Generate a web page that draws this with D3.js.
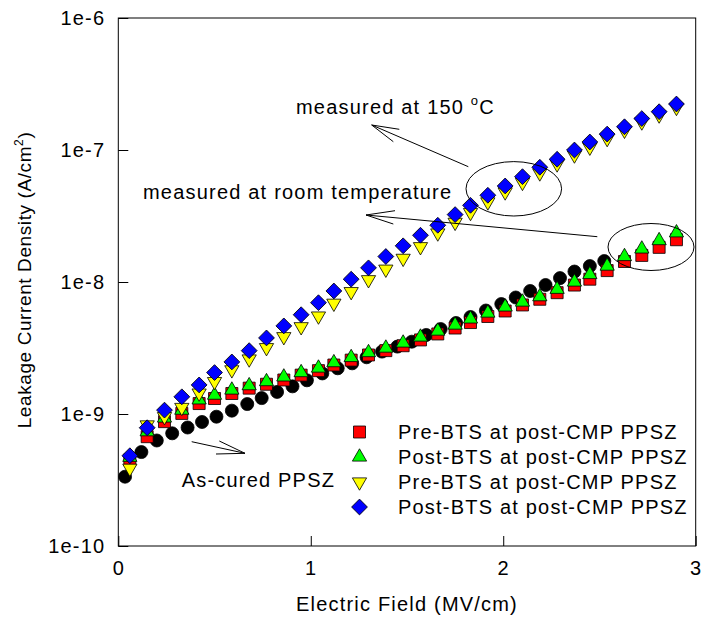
<!DOCTYPE html>
<html>
<head>
<meta charset="utf-8">
<script src="https://cdn.jsdelivr.net/npm/d3@7"></script>
<style>
  body { margin: 0; background: #fff; }
  text { font-family: Arial, "Liberation Sans", sans-serif; fill: #000; }
</style>
</head>
<body>
<svg id="chart" width="702" height="618"></svg>
<script>
// Electric field (MV/cm) for the as-cured film
const fieldAsCured = [0.035, 0.12, 0.20, 0.28, 0.36, 0.435, 0.51, 0.59, 0.67, 0.745, 0.825,
  0.905, 0.98, 1.06, 1.14, 1.215, 1.29, 1.37, 1.45, 1.525, 1.60, 1.675, 1.755, 1.83, 1.91,
  1.99, 2.065, 2.14, 2.22, 2.295, 2.37, 2.45, 2.525];
// Leakage current density (A/cm^2), as-cured PPSZ
const asCured = [3.35e-10, 5.15e-10, 6.30e-10, 7.14e-10, 7.90e-10, 8.70e-10, 9.54e-10, 1.06e-9,
  1.19e-9, 1.32e-9, 1.47e-9, 1.62e-9, 1.80e-9, 2.03e-9, 2.22e-9, 2.42e-9, 2.69e-9, 2.97e-9,
  3.24e-9, 3.53e-9, 3.97e-9, 4.40e-9, 4.89e-9, 5.43e-9, 6.08e-9, 6.81e-9, 7.63e-9, 8.55e-9,
  9.49e-9, 1.07e-8, 1.20e-8, 1.32e-8, 1.44e-8];

// Electric field (MV/cm) for the post-CMP films
const fieldPPSZ = [0.06, 0.15, 0.24, 0.33, 0.42, 0.50, 0.59, 0.68, 0.77, 0.86, 0.95, 1.04,
  1.12, 1.21, 1.30, 1.39, 1.48, 1.57, 1.66, 1.75, 1.83, 1.92, 2.01, 2.10, 2.19, 2.28, 2.37,
  2.45, 2.54, 2.63, 2.72, 2.81, 2.90];
// Room temperature
const preBTSRoom = [4.49e-10, 6.73e-10, 8.75e-10, 1.01e-9, 1.20e-9, 1.31e-9, 1.43e-9, 1.57e-9,
  1.68e-9, 1.81e-9, 1.97e-9, 2.13e-9, 2.35e-9, 2.56e-9, 2.80e-9, 3.02e-9, 3.29e-9, 3.64e-9,
  4.04e-9, 4.48e-9, 4.93e-9, 5.48e-9, 6.03e-9, 6.70e-9, 7.40e-9, 8.30e-9, 9.48e-9, 1.05e-8,
  1.22e-8, 1.43e-8, 1.59e-8, 1.83e-8, 2.09e-8];
const postBTSRoom = [4.70e-10, 7.34e-10, 9.33e-10, 1.07e-9, 1.28e-9, 1.39e-9, 1.52e-9, 1.64e-9,
  1.76e-9, 1.91e-9, 2.06e-9, 2.23e-9, 2.45e-9, 2.68e-9, 2.92e-9, 3.16e-9, 3.45e-9, 3.83e-9,
  4.25e-9, 4.72e-9, 5.25e-9, 5.82e-9, 6.47e-9, 7.05e-9, 7.74e-9, 8.81e-9, 1.00e-8, 1.14e-8,
  1.32e-8, 1.56e-8, 1.78e-8, 2.06e-8, 2.36e-8];
// Measured at 150 C
const preBTS150 = [3.88e-10, 8.26e-10, 9.55e-10, 1.12e-9, 1.44e-9, 1.76e-9, 2.16e-9, 2.61e-9,
  3.18e-9, 3.85e-9, 4.58e-9, 5.52e-9, 6.90e-9, 8.45e-9, 1.04e-8, 1.25e-8, 1.51e-8, 1.85e-8,
  2.35e-8, 2.83e-8, 3.36e-8, 4.04e-8, 4.81e-8, 5.68e-8, 6.70e-8, 7.84e-8, 9.16e-8, 1.05e-7,
  1.22e-7, 1.41e-7, 1.63e-7, 1.84e-7, 2.10e-7];
const postBTS150 = [4.83e-10, 7.87e-10, 1.07e-9, 1.35e-9, 1.66e-9, 2.06e-9, 2.48e-9, 3.02e-9,
  3.77e-9, 4.65e-9, 5.65e-9, 6.97e-9, 8.55e-9, 1.05e-8, 1.28e-8, 1.56e-8, 1.88e-8, 2.26e-8,
  2.69e-8, 3.24e-8, 3.81e-8, 4.54e-8, 5.34e-8, 6.28e-8, 7.40e-8, 8.51e-8, 1.00e-7, 1.15e-7,
  1.32e-7, 1.50e-7, 1.73e-7, 1.95e-7, 2.23e-7];

const xTicks = [0, 1, 2, 3];
const yTicks = [1e-10, 1e-9, 1e-8, 1e-7, 1e-6];
const legendLabels = ["Pre-BTS at post-CMP PPSZ", "Post-BTS at post-CMP PPSZ",
  "Pre-BTS at post-CMP PPSZ", "Post-BTS at post-CMP PPSZ"];

const svg = d3.select("#chart");
const FONT = 20, LS = "1.2px";
const plot = { left: 118.3, right: 695.7, top: 18, bottom: 546 };

const x = d3.scaleLinear().domain([0, 3]).range([plot.left, plot.right]);
const y = d3.scaleLog().domain([1e-10, 1e-6]).range([plot.bottom, plot.top]);

// frame
svg.append("rect")
  .attr("x", plot.left).attr("y", plot.top)
  .attr("width", plot.right - plot.left).attr("height", plot.bottom - plot.top)
  .attr("fill", "none").attr("stroke", "#000").attr("stroke-width", 1);

// axes with inward ticks
const xAxis = svg.append("g")
  .attr("transform", `translate(0,${plot.bottom})`)
  .call(d3.axisBottom(x).tickValues(xTicks).tickSize(-10).tickPadding(15)
    .tickFormat(d3.format("d")));
const yAxis = svg.append("g")
  .attr("transform", `translate(${plot.left},0)`)
  .call(d3.axisLeft(y).tickValues(yTicks).tickSize(-10).tickPadding(13)
    .tickFormat(d => "1e" + Math.round(Math.log10(d))));
[xAxis, yAxis].forEach(g => {
  g.select(".domain").remove();
  g.selectAll(".tick line").attr("stroke", "#000").attr("stroke-width", 1);
  g.selectAll(".tick text")
    .style("font-size", FONT + "px")
    .style("letter-spacing", LS)
    .attr("fill", "#000")
    .style("font-family", "Arial, 'Liberation Sans', sans-serif");
});

// axis titles
svg.append("text")
  .attr("x", (plot.left + plot.right) / 2).attr("y", 611)
  .attr("text-anchor", "middle")
  .style("font-size", FONT + "px").style("letter-spacing", LS)
  .text("Electric Field (MV/cm)");

const yTitle = svg.append("text")
  .attr("transform", "translate(31,280) rotate(-90)")
  .attr("text-anchor", "middle")
  .style("font-size", "19px").style("letter-spacing", "0.6px");
yTitle.append("tspan").text("Leakage Current Density (A/cm");
yTitle.append("tspan").attr("dy", -8).style("font-size", "12px").text("2");
yTitle.append("tspan").attr("dy", 8).text(")");

// marker shapes
const shapes = {
  circle: d3.symbol().type(d3.symbolCircle).size(133)(),
  square: d3.symbol().type(d3.symbolSquare).size(144)(),
  triUp: d3.symbol().type(d3.symbolTriangle).size(88)(),
  diamond: d3.symbol().type(d3.symbolSquare).size(125)()
};

const series = [
  { xs: fieldAsCured, ys: asCured, shape: "circle", fill: "#000000", rot: 0 },
  { xs: fieldPPSZ, ys: preBTSRoom, shape: "square", fill: "#ff0000", rot: 0 },
  { xs: fieldPPSZ, ys: postBTSRoom, shape: "triUp", fill: "#00ff00", rot: 0 },
  { xs: fieldPPSZ, ys: preBTS150, shape: "triUp", fill: "#ffff00", rot: 180 },
  { xs: fieldPPSZ, ys: postBTS150, shape: "diamond", fill: "#0000ff", rot: 45 }
];

series.forEach(s => {
  svg.append("g").selectAll("path")
    .data(s.xs.map((f, i) => [f, s.ys[i]]))
    .join("path")
    .attr("d", shapes[s.shape])
    .attr("transform", d => `translate(${x(d[0])},${y(d[1])}) rotate(${s.rot})`)
    .attr("fill", s.fill)
    .attr("stroke", "#000")
    .attr("stroke-width", 0.8);
});

// annotations: ellipses and open-headed arrows
const ann = svg.append("g").attr("fill", "none").attr("stroke", "#000").attr("stroke-width", 1);
ann.append("ellipse").attr("cx", 513.8).attr("cy", 188.8).attr("rx", 47.8).attr("ry", 27.2);
ann.append("ellipse").attr("cx", 651).attr("cy", 247).attr("rx", 43).attr("ry", 23.5);
const arrows = [
  { from: [468.3, 166.7], tip: [371.7, 125], h1: [399.3, 129.3], h2: [393.3, 141.7] },
  { from: [597.3, 236.7], tip: [366, 215], h1: [395, 210.7], h2: [393.3, 224] },
  { from: [191.7, 441.7], tip: [245, 453.3], h1: [219.3, 441], h2: [216, 454] }
];
arrows.forEach(a => {
  ann.append("line").attr("x1", a.from[0]).attr("y1", a.from[1])
    .attr("x2", a.tip[0]).attr("y2", a.tip[1]);
  ann.append("path").attr("d", `M${a.h1}L${a.tip}L${a.h2}`);
});

const t1 = svg.append("text").attr("x", 296).attr("y", 114)
  .style("font-size", FONT + "px").style("letter-spacing", LS);
t1.append("tspan").text("measured at 150 ");
t1.append("tspan").attr("dy", -9).style("font-size", "13px").text("o");
t1.append("tspan").attr("dy", 9).text("C");

svg.append("text").attr("x", 143).attr("y", 199)
  .style("font-size", FONT + "px").style("letter-spacing", LS)
  .text("measured at room temperature");

svg.append("text").attr("x", 181.7).attr("y", 487)
  .style("font-size", FONT + "px").style("letter-spacing", LS)
  .text("As-cured PPSZ");

// legend
const legendItems = series.slice(1);
const legend = svg.append("g");
legendItems.forEach((s, i) => {
  const cy = 432 + i * 25;
  legend.append("path")
    .attr("d", shapes[s.shape])
    .attr("transform", `translate(359.5,${cy}) rotate(${s.rot})`)
    .attr("fill", s.fill).attr("stroke", "#000").attr("stroke-width", 0.8);
  legend.append("text")
    .attr("x", 398).attr("y", cy + 7)
    .style("font-size", FONT + "px").style("letter-spacing", LS)
    .text(legendLabels[i]);
});
</script>
</body>
</html>
